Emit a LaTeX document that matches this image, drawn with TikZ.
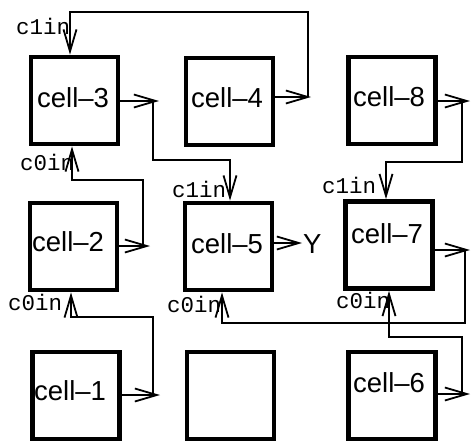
\documentclass[tikz,border=0pt]{standalone}
\usepackage{fontspec}
\setmainfont{Liberation Sans}
\newfontfamily\pinfont{Liberation Mono}
\usetikzlibrary{arrows.meta}
\begin{document}
\begin{tikzpicture}[x=1pt,y=-1pt,
  cellbox/.style={draw, line width=4.8pt, minimum width=87pt, minimum height=87pt, inner sep=0pt},
  celltext/.style={anchor=base west, inner sep=0pt, font=\fontsize{27.5}{30}\selectfont},
  pin/.style={anchor=base west, inner sep=0pt, font=\pinfont\fontsize{22.5}{24}\selectfont},
  wire/.style={line width=1.8pt},
  sig/.style={wire, -{Straight Barb[length=22pt,width=13pt]}},
]
\useasboundingbox (0,0) rectangle (471,442);

% cell grid
\node[cellbox] (c3) at (74.5,100.5) {};
\node[cellbox] (c4) at (229.5,101.5) {};
\node[cellbox] (c8) at (392,100.5) {};
\node[cellbox] (c2) at (73.5,246.5) {};
\node[cellbox] (c5) at (228.5,246.5) {};
\node[cellbox] (c7) at (389,245) {};
\node[cellbox] (c1) at (76,395.5) {};
\node[cellbox] (c9) at (230.5,395.5) {};
\node[cellbox] (c6) at (392,395.5) {};

% cell names
\node[celltext] (t3) at (37,107) {cell–3};
\node[celltext] (t4) at (191,107) {cell–4};
\node[celltext] (t8) at (353,106) {cell–8};
\node[celltext] (t2) at (32,251) {cell–2};
\node[celltext] (t5) at (191,253) {cell–5};
\node[celltext] (t7) at (351,243) {cell–7};
\node[celltext] (t1) at (34,400) {cell–1};
\node[celltext] (t6) at (353,392) {cell–6};

% output tips
\coordinate (o3) at (159,101);
\coordinate (o4) at (311,97);
\coordinate (o8) at (470,101);
\coordinate (o2) at (150,246);
\coordinate (o5) at (302,243);
\coordinate (o7) at (470,250);
\coordinate (o1) at (160,395);
\coordinate (o6) at (470,394);

\draw[sig] (c3.east |- o3) -- (o3);
\draw[sig] (c4.east |- o4) -- (o4);
\draw[sig] (c8.east |- o8) -- (o8);
\draw[sig] (c2.east |- o2) -- (o2);
\draw[sig] (c5.east |- o5) -- (o5);
\draw[sig] (c7.east |- o7) -- (o7);
\draw[sig] (c1.east |- o1) -- (o1);
\draw[sig] (c6.east |- o6) -- (o6);

\node[celltext] (y) at (303,253) {Y};

% taps and bends of the carry wires
\coordinate (j4) at (308,97);  \coordinate (k4) at (70,12);
\coordinate (j3) at (153,101); \coordinate (k3) at (230,160);
\coordinate (j8) at (462,101); \coordinate (k8) at (386,162);
\coordinate (j2) at (143,246); \coordinate (k2) at (72,180);
\coordinate (j1) at (153,395); \coordinate (k1) at (71,317);
\coordinate (j7) at (465,250); \coordinate (k7) at (222,323);
\coordinate (j6) at (462,394); \coordinate (k6) at (389,337);

\draw[sig] (j4) |- (k4) -- (k4 |- c3.north);
\draw[sig] (j3) |- (k3) -- (k3 |- c5.north);
\draw[sig] (j8) |- (k8) -- (k8 |- c7.north);
\draw[sig] (j2) |- (k2) -- (k2 |- c3.south);
\draw[sig] (j1) |- (k1) -- (k1 |- c2.south);
\draw[sig] (j7) |- (k7) -- (k7 |- c5.south);
\draw[sig] (j6) |- (k6) -- (k6 |- c7.south);

% input pin names
\node[pin] (p1) at (16,34) {c1in};
\node[pin] (p2) at (20,170) {c0in};
\node[pin] (p3) at (172,197) {c1in};
\node[pin] (p4) at (322,193) {c1in};
\node[pin] (p5) at (8,310) {c0in};
\node[pin] (p6) at (167,312) {c0in};
\node[pin] (p7) at (336,308) {c0in};
\end{tikzpicture}
\end{document}
